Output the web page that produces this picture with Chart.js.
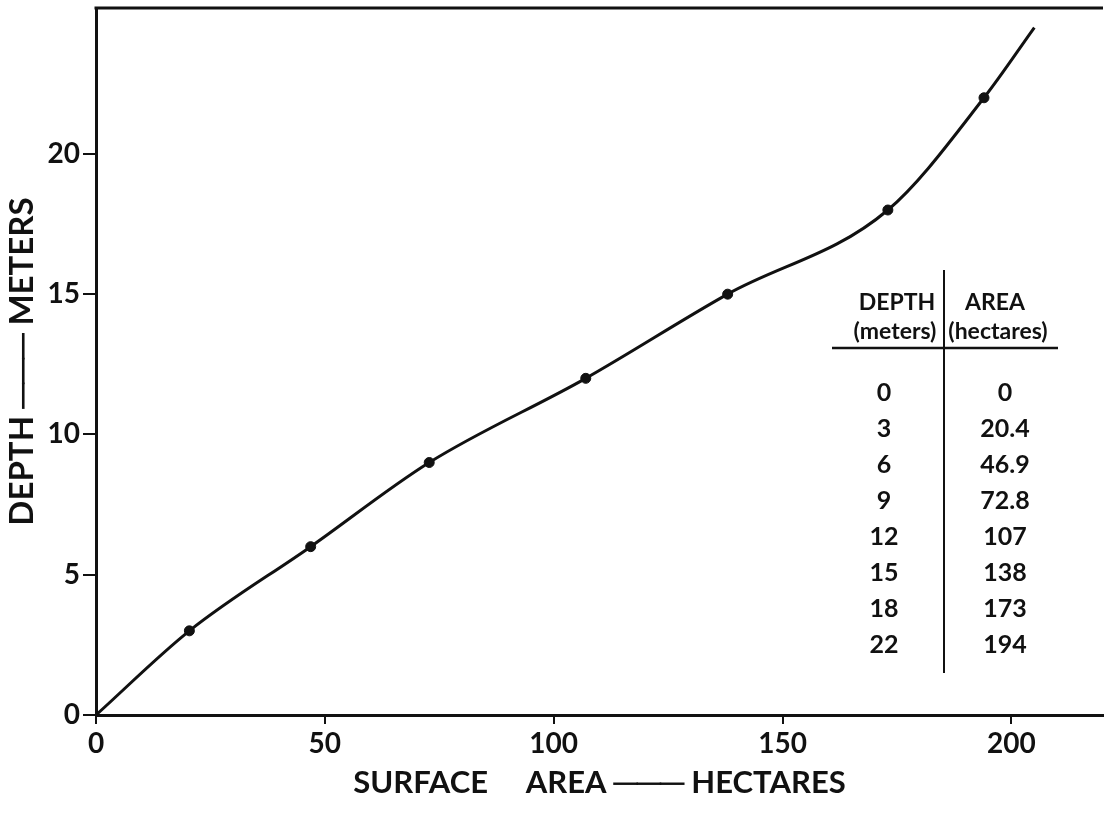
<!DOCTYPE html>
<html>
<head>
<meta charset="utf-8">
<title>Depth vs surface area</title>
<script src="https://cdn.jsdelivr.net/npm/chart.js@4.4.1/dist/chart.umd.min.js"></script>
<style>
  html, body { margin: 0; padding: 0; background: #fff; }
  #wrap { width: 1109px; height: 814px; }
</style>
</head>
<body>
<div id="wrap"><canvas id="chart" width="1109" height="814"></canvas></div>
<script>
// soundings: depth (m) against surface area (ha)
const depthM = [0, 3, 6, 9, 12, 15, 18, 22];
const areaHa = [0, 20.4, 46.9, 72.8, 107, 138, 173, 194];
const areaText = ['0', '20.4', '46.9', '72.8', '107', '138', '173', '194'];
// where the faired curve runs out past the last sounding
const curveEnd = { area: 205, depth: 24.5 };

const xTicks = [0, 50, 100, 150, 200];
const yTicks = [0, 5, 10, 15, 20];

const INK = '#111';
const FONT = 'Lato, "DejaVu Sans", sans-serif';

const points = areaHa.map((a, i) => ({ x: a, y: depthM[i] }));
const curve = points.concat([{ x: curveEnd.area, y: curveEnd.depth }]);

// chart.js only draws the axis borders, so add the top rule by hand
const topRule = {
  id: 'topRule',
  afterDraw(chart) {
    const { ctx, chartArea } = chart;
    ctx.save();
    ctx.strokeStyle = INK;
    ctx.lineWidth = 3;
    ctx.beginPath();
    ctx.moveTo(chartArea.left - 1.5, chartArea.top);
    ctx.lineTo(chartArea.right, chartArea.top);
    ctx.stroke();
    ctx.restore();
  },
};

// the little depth / area table in the lower right
const depthTable = {
  id: 'depthTable',
  afterDraw(chart) {
    const ctx = chart.ctx;
    const divX = 944, ruleY = 348;
    const leftX = 884, rightX = 1005;
    ctx.save();
    ctx.strokeStyle = INK;
    ctx.fillStyle = INK;
    ctx.lineWidth = 2;
    ctx.beginPath();
    ctx.moveTo(divX, 270);
    ctx.lineTo(divX, 673);
    ctx.stroke();
    ctx.lineWidth = 2.5;
    ctx.beginPath();
    ctx.moveTo(832, ruleY);
    ctx.lineTo(1058, ruleY);
    ctx.stroke();

    ctx.textAlign = 'center';
    ctx.textBaseline = 'middle';
    ctx.font = 'bold 23px ' + FONT;
    ctx.fillText('DEPTH', 897, 303);
    ctx.fillText('AREA', 995, 303);
    ctx.fillText('(meters)', 895, 332);
    ctx.fillText('(hectares)', 998, 332);

    ctx.font = 'bold 25px ' + FONT;
    depthM.forEach((d, i) => {
      let y = 393 + i * 36;
      ctx.fillText(String(d), leftX, y);
      ctx.fillText(areaText[i], rightX, y);
    });
    ctx.restore();
  },
};

new Chart(document.getElementById('chart'), {
  type: 'scatter',
  data: {
    datasets: [
      {
        label: 'soundings',
        data: points,
        showLine: false,
        pointRadius: (c) => (c.dataIndex === 0 ? 0 : 5),
        backgroundColor: INK,
        borderColor: INK,
      },
      {
        label: 'curve',
        data: curve,
        showLine: true,
        borderColor: INK,
        borderWidth: 3,
        pointRadius: 0,
        cubicInterpolationMode: 'monotone',
        fill: false,
      },
    ],
  },
  options: {
    responsive: false,
    devicePixelRatio: 1,
    animation: false,
    layout: { padding: { top: 8, right: 0, bottom: 0, left: 0 } },
    plugins: { legend: { display: false }, tooltip: { enabled: false } },
    scales: {
      x: {
        type: 'linear',
        min: 0,
        max: 220,
        afterBuildTicks: (s) => {
          s.ticks = xTicks.map((v) => ({ value: v }));
        },
        afterFit: (s) => {
          s.height = 99;
          s.paddingLeft = 0;
          s.paddingRight = 0;
        },
        grid: { display: true, drawOnChartArea: false, drawTicks: true, tickLength: 9, color: INK, lineWidth: 2 },
        border: { display: true, color: INK, width: 3 },
        ticks: { color: INK, font: { family: FONT, size: 28, weight: 'bold' }, padding: 3, maxRotation: 0 },
        title: {
          display: true,
          text: 'SURFACE     AREA ─── HECTARES',
          color: INK,
          font: { family: FONT, size: 31, weight: 'bold' },
          padding: { top: 0, bottom: 12 },
        },
      },
      y: {
        type: 'linear',
        min: 0,
        max: 25.2,
        afterBuildTicks: (s) => {
          s.ticks = yTicks.map((v) => ({ value: v }));
        },
        afterFit: (s) => {
          s.width = 96;
          s.paddingTop = 0;
          s.paddingBottom = 0;
        },
        grid: { display: true, drawOnChartArea: false, drawTicks: true, tickLength: 13, color: INK, lineWidth: 2 },
        border: { display: true, color: INK, width: 3 },
        ticks: { color: INK, font: { family: FONT, size: 28, weight: 'bold' }, padding: 3 },
        title: {
          display: true,
          text: 'DEPTH ─── METERS',
          color: INK,
          font: { family: FONT, size: 33, weight: 'bold' },
          padding: { top: 3, bottom: 0 },
        },
      },
    },
  },
  plugins: [topRule, depthTable],
});
</script>
</body>
</html>
